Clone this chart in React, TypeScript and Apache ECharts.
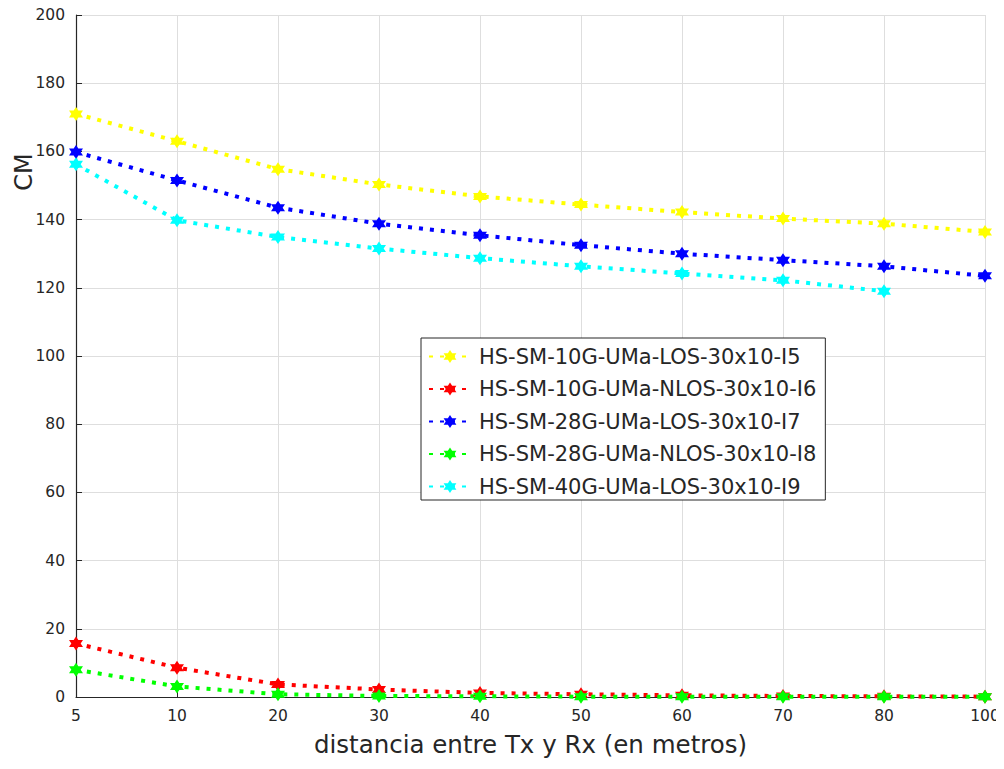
import React, { useEffect, useRef } from "react";
import * as echarts from "echarts";

const categories = ["5", "10", "20", "30", "40", "50", "60", "70", "80", "100"];
const yTickMin = 0;
const yTickMax = 200;
const yTickStep = 20;

const seriesNames = [
  "HS-SM-10G-UMa-LOS-30x10-I5",
  "HS-SM-10G-UMa-NLOS-30x10-I6",
  "HS-SM-28G-UMa-LOS-30x10-I7",
  "HS-SM-28G-UMa-NLOS-30x10-I8",
  "HS-SM-40G-UMa-LOS-30x10-I9",
];
const seriesColors = ["#ffff00", "#ff0000", "#0000ff", "#00ff00", "#00ffff"];

const los10 = [171.0, 163.0, 154.8, 150.3, 146.8, 144.4, 142.2, 140.3, 138.8, 136.4];
const nlos10 = [15.7, 8.6, 3.7, 2.2, 1.2, 0.8, 0.5, 0.3, 0.2, 0.1];
const los28 = [159.8, 151.5, 143.5, 138.8, 135.4, 132.5, 130.0, 128.1, 126.3, 123.5];
const nlos28 = [8.0, 3.1, 0.8, 0.3, 0.2, 0.1, 0.1, 0.1, 0.1, 0.1];
const los40 = [156.2, 139.8, 134.9, 131.5, 128.7, 126.3, 124.2, 122.2, 119.0, null];

const seriesValues = [los10, nlos10, los28, nlos28, los40];

const hexagram =
  "path://M0 -10 L2.89 -5 L8.66 -5 L5.77 0 L8.66 5 L2.89 5 L0 10 L-2.89 5 L-8.66 5 L-5.77 0 L-8.66 -5 L-2.89 -5 Z";

const FONT = "'DejaVu Sans', 'Liberation Sans', Arial, sans-serif";
const TEXT = "#262626";

export default function App() {
  const ref = useRef<HTMLDivElement>(null);
  useEffect(() => {
    if (!ref.current) return;
    const chart = echarts.init(ref.current, null, { renderer: "svg" });
    chart.setOption({
      animation: false,
      backgroundColor: "#ffffff",
      textStyle: { fontFamily: FONT },
      grid: { left: 76, right: 19, top: 15, bottom: 72, containLabel: false },
      legend: {
        orient: "vertical",
        left: 421,
        top: 338,
        padding: [8, 9, 3, 7],
        backgroundColor: "#ffffff",
        borderColor: "#262626",
        borderWidth: 1,
        borderRadius: 0,
        itemWidth: 42,
        itemHeight: 16,
        itemGap: 11.5,
        textStyle: { fontSize: 21, lineHeight: 20, color: TEXT, fontFamily: FONT, padding: [0, 0, 0, 3] },
        data: seriesNames,
      },
      xAxis: {
        type: "category",
        data: categories,
        boundaryGap: false,
        name: "distancia entre Tx y Rx (en metros)",
        nameLocation: "middle",
        nameGap: 35,
        nameTextStyle: { fontSize: 24.5, color: TEXT, fontFamily: FONT },
        axisLine: { show: true, lineStyle: { color: TEXT, width: 1.2 } },
        axisTick: { show: true, inside: true, length: 6, alignWithLabel: true, lineStyle: { color: TEXT } },
        axisLabel: { fontSize: 15.5, color: TEXT, margin: 11, fontFamily: FONT },
        splitLine: { show: true, lineStyle: { color: "#dedede", width: 1 } },
      },
      yAxis: {
        type: "value",
        min: yTickMin,
        max: yTickMax,
        interval: yTickStep,
        axisLine: { show: true, lineStyle: { color: TEXT, width: 1.2 } },
        axisTick: { show: true, inside: true, length: 6, lineStyle: { color: TEXT } },
        axisLabel: { fontSize: 15.5, color: TEXT, margin: 11, fontFamily: FONT },
        splitLine: { show: true, lineStyle: { color: "#dedede", width: 1 } },
      },
      graphic: [
        {
          type: "text",
          x: 24,
          y: 172,
          rotation: Math.PI / 2,
          style: {
            text: "CM",
            fontSize: 24,
            fill: TEXT,
            fontFamily: FONT,
            align: "center",
            verticalAlign: "middle",
          },
        },
      ],
      series: seriesNames.map((name, i) => ({
        name,
        type: "line",
        data: seriesValues[i],
        symbol: hexagram,
        symbolSize: 14,
        showAllSymbol: true,
        connectNulls: false,
        itemStyle: { color: seriesColors[i] },
        lineStyle: { color: seriesColors[i], width: 4, type: [4, 7] },
        emphasis: { disabled: true },
      })),
    });
    return () => chart.dispose();
  }, []);
  return <div ref={ref} style={{ width: 1004, height: 769, margin: -8 }} />;
}
